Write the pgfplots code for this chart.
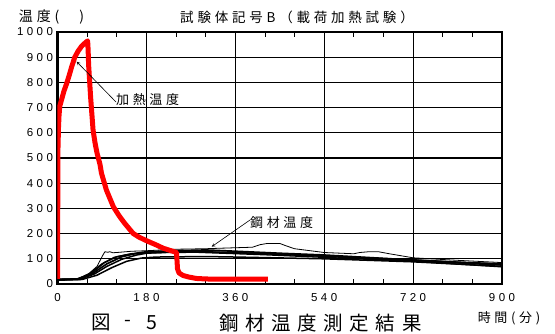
\documentclass[border=0pt]{standalone}
\usepackage{fontspec}
\usepackage{pgfplots}
\pgfplotsset{compat=1.18}
\newfontfamily\jp[LetterSpace=28]{Noto Sans CJK JP}
\newfontfamily\jpbig[LetterSpace=34]{Noto Sans CJK JP}
\newfontfamily\num[LetterSpace=30]{Liberation Sans}
\setmainfont{Liberation Sans}
\begin{document}
\begin{tikzpicture}
\path (-57.5pt,-49pt) rectangle (497.5pt,284pt);
\begin{axis}[at={(0pt,0pt)}, anchor=south west, scale only axis,
  width=444.5pt, height=252pt,
  xmin=0, xmax=900, ymin=0, ymax=1000,
  xtick={0,180,360,540,720,900},
  xticklabels={0,180,360,540,720,900},
  ytick={0,100,200,300,400,500,600,700,800,900,1000},
  yticklabels={0,100,200,300,400,500,600,700,800,900,1000},
  minor xtick={60,120,240,300,420,480,600,660,780,840},
  xmajorgrids, ymajorgrids,
  major grid style={black, line width=1.1pt},
  axis line style={black, line width=2.6pt},
  major tick length=0pt,
  minor tick length=5pt,
  minor tick style={black, line width=0.8pt},
  tick align=inside, tick pos=both,
  xticklabel style={font=\num\fontsize{11.5}{12}\selectfont, yshift=-6pt},
  yticklabel style={font=\num\fontsize{11.5}{12}\selectfont, anchor=east, xshift=-1pt},
  clip=true,
]
% steel temperatures
\addplot[black, line width=0.8pt] coordinates {(0,18)(40,20)(60,35)(80,70)(92,115)(96,128)(102,126)(106,128)(112,124)(120,125)(150,130)(180,132)(240,138)(300,140)(330,142)(395,146)(410,156)(425,161)(450,161)(462,152)(480,140)(540,125)(600,120)(612,125)(630,128)(650,128)(672,120)(720,104)(800,95)(900,85)};
\addplot[black, line width=1.7pt] coordinates {(0,18)(40,20)(70,40)(100,80)(130,108)(160,122)(180,128)(240,132)(300,135)(360,130)(450,122)(540,115)(630,105)(720,95)(810,86)(900,80)};
\addplot[black, line width=1.5pt] coordinates {(0,16)(45,18)(75,40)(100,70)(130,98)(160,115)(180,122)(240,128)(360,125)(540,110)(720,92)(900,75)};
\addplot[black, line width=1.5pt] coordinates {(0,15)(50,18)(80,35)(110,65)(140,90)(170,103)(200,107)(300,109)(360,107)(540,100)(720,88)(900,70)};
\addplot[black, line width=1.5pt] coordinates {(0,17)(45,20)(70,45)(95,85)(120,108)(150,120)(180,125)(300,128)(450,118)(600,106)(720,96)(900,78)};
\addplot[black, line width=1.3pt] coordinates {(0,19)(42,21)(65,42)(90,80)(115,106)(145,118)(180,124)(280,126)(420,116)(560,104)(720,90)(900,68)};
% heating temperature
\addplot[red, line width=5pt, line join=round] coordinates {(0,20)(0.5,300)(1,540)(2,620)(3,665)(4.5,705)(8.5,733)(13,765)(18.6,796)(24,830)(28.7,862)(35,900)(42,925)(49,944)(55,955)(61,965)(62,930)(63,870)(67,743)(72,611)(76,560)(80,520)(86,475)(89,440)(99,373)(113,307)(125,270)(136,241)(153,201)(165,186)(180,172)(200,155)(214,142)(230,132)(241,125)(243,60)(246,44)(254,34)(265,28)(281,22)(300,20)(329,19)(426,19)};
\end{axis}
% annotations
\draw[black, line width=0.6pt, -stealth] (58.5pt,182pt) -- (19.2pt,222.3pt);
\node[anchor=west, inner sep=0pt, font=\jp\fontsize{13}{13}\selectfont] at (58.5pt,184pt) {加熱温度};
\draw[black, line width=0.6pt, -stealth] (192.5pt,64pt) -- (154.2pt,37.3pt);
\node[anchor=west, inner sep=0pt, font=\jp\fontsize{13}{13}\selectfont] at (192.5pt,61pt) {鋼材温度};
% titles
\node[inner sep=0pt, font=\jp\fontsize{14}{14}\selectfont] at (-6pt,267pt) {温度(\hspace{20pt})};
\node[inner sep=0pt, font=\jp\fontsize{13.5}{14}\selectfont] at (239.5pt,267pt) {試験体記号B（載荷加熱試験）};
\node[inner sep=0pt, font=\jpbig\fontsize{19.5}{20}\selectfont] at (44.2pt,-39pt) {図};
\node[inner sep=0pt, font=\jpbig\fontsize{19.5}{20}\selectfont] at (70pt,-39pt) {-};
\node[inner sep=0pt, font=\jpbig\fontsize{19.5}{20}\selectfont] at (94.5pt,-39pt) {5};
\node[anchor=west, inner sep=0pt, font=\jpbig\fontsize{19.5}{20}\selectfont] at (161.5pt,-39pt) {鋼材温度測定結果};
\node[inner sep=0pt, font=\jp\fontsize{13}{13}\selectfont] at (451.5pt,-34pt) {時間(分)};
\end{tikzpicture}
\end{document}
